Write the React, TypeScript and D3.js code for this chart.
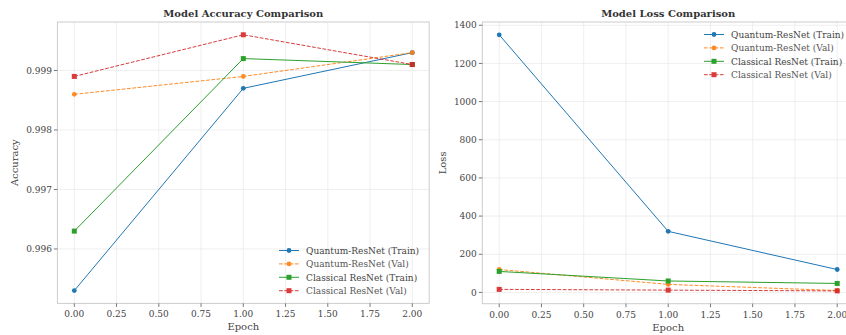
import React from 'react';
import * as d3 from 'd3';

const epochs = [0, 1, 2];

const seriesNames = [
  'Quantum-ResNet (Train)',
  'Quantum-ResNet (Val)',
  'Classical ResNet (Train)',
  'Classical ResNet (Val)',
];
const seriesColors = ['#1f77b4', '#ff7f0e', '#2ca02c', '#d62728'];
const seriesDashed = [false, true, false, true];
const seriesMarker = ['circle', 'circle', 'square', 'square'];

const accQuantumTrain = [0.9953, 0.9987, 0.9993];
const accQuantumVal = [0.9986, 0.9989, 0.9993];
const accClassicalTrain = [0.9963, 0.9992, 0.9991];
const accClassicalVal = [0.9989, 0.9996, 0.9991];

const lossQuantumTrain = [1350, 320, 120];
const lossQuantumVal = [120, 42, 10];
const lossClassicalTrain = [110, 60, 47];
const lossClassicalVal = [16, 12, 8];

const xTicks = [0, 0.25, 0.5, 0.75, 1, 1.25, 1.5, 1.75, 2];
const accTicks = [0.996, 0.997, 0.998, 0.999];
const lossTicks = [0, 200, 400, 600, 800, 1000, 1200, 1400];

const FONT = '"DejaVu Serif", serif';
const W = 846;
const H = 335;

type PanelProps = {
  left: number;
  right: number;
  top: number;
  bottom: number;
  title: string;
  yLabel: string;
  yLabelX: number;
  data: number[][];
  yTicks: number[];
  yFmt: (v: number) => string;
  legendX: number;
  legendY: number;
};

const pad = (lo: number, hi: number): [number, number] => {
  const m = (hi - lo) * 0.05;
  return [lo - m, hi + m];
};

const Panel = (p: PanelProps) => {
  const x = d3.scaleLinear().domain(pad(0, 2)).range([p.left, p.right]);
  const all = p.data.flat();
  const y = d3
    .scaleLinear()
    .domain(pad(d3.min(all) as number, d3.max(all) as number))
    .range([p.bottom, p.top]);
  const line = d3
    .line<number>()
    .x((_, i) => x(epochs[i]))
    .y((d) => y(d));
  const xFmt = d3.format('.2f');
  const cx = (p.left + p.right) / 2;

  const marker = (k: number, px: number, py: number, key: string) =>
    seriesMarker[k] === 'circle' ? (
      <circle key={key} cx={px} cy={py} r={2.4} fill={seriesColors[k]} />
    ) : (
      <rect key={key} x={px - 2.5} y={py - 2.5} width={5} height={5} fill={seriesColors[k]} />
    );

  return (
    <g>
      {/* grid */}
      {xTicks.map((t) => (
        <line key={'gx' + t} x1={x(t)} x2={x(t)} y1={p.top} y2={p.bottom} stroke="#ebebeb" strokeWidth={0.8} />
      ))}
      {p.yTicks.map((t) => (
        <line key={'gy' + t} x1={p.left} x2={p.right} y1={y(t)} y2={y(t)} stroke="#ebebeb" strokeWidth={0.8} />
      ))}
      {/* spines */}
      <rect x={p.left} y={p.top} width={p.right - p.left} height={p.bottom - p.top} fill="none" stroke="#cccccc" strokeWidth={1} />
      {/* ticks */}
      {xTicks.map((t) => (
        <g key={'tx' + t}>
          <line x1={x(t)} x2={x(t)} y1={p.bottom} y2={p.bottom + 3.5} stroke="#555" strokeWidth={0.8} />
          <text x={x(t)} y={p.bottom + 14} textAnchor="middle" fontSize={9} fill="#444" fontFamily={FONT}>
            {xFmt(t)}
          </text>
        </g>
      ))}
      {p.yTicks.map((t) => (
        <g key={'ty' + t}>
          <line x1={p.left - 3.5} x2={p.left} y1={y(t)} y2={y(t)} stroke="#555" strokeWidth={0.8} />
          <text x={p.left - 5.5} y={y(t) + 3.2} textAnchor="end" fontSize={9} fill="#444" fontFamily={FONT}>
            {p.yFmt(t)}
          </text>
        </g>
      ))}
      {/* series */}
      {p.data.map((vals, k) => (
        <g key={'s' + k} opacity={seriesDashed[k] ? 0.9 : 1}>
          <path
            d={line(vals) || ''}
            fill="none"
            stroke={seriesColors[k]}
            strokeWidth={1}
            strokeDasharray={seriesDashed[k] ? '3.7,1.6' : undefined}
          />
          {vals.map((v, i) => marker(k, x(epochs[i]), y(v), 'm' + k + '-' + i))}
        </g>
      ))}
      {/* titles */}
      <text x={cx} y={p.top - 5} textAnchor="middle" fontSize={10} fontWeight="bold" fill="#333" fontFamily={FONT}>
        {p.title}
      </text>
      <text x={cx} y={p.bottom + 27} textAnchor="middle" fontSize={10} fill="#444" fontFamily={FONT}>
        Epoch
      </text>
      <text
        transform={`translate(${p.yLabelX},${(p.top + p.bottom) / 2}) rotate(-90)`}
        textAnchor="middle"
        fontSize={10}
        fill="#444"
        fontFamily={FONT}
      >
        {p.yLabel}
      </text>
      {/* legend */}
      {seriesNames.map((name, k) => {
        const ly = p.legendY + k * 13.4;
        return (
          <g key={'l' + k} opacity={seriesDashed[k] ? 0.9 : 1}>
            <line
              x1={p.legendX}
              x2={p.legendX + 20}
              y1={ly}
              y2={ly}
              stroke={seriesColors[k]}
              strokeWidth={1}
              strokeDasharray={seriesDashed[k] ? '3.7,1.6' : undefined}
            />
            {marker(k, p.legendX + 10, ly, 'lm' + k)}
            <text x={p.legendX + 27} y={ly + 3.3} fontSize={9} fill="#444" fontFamily={FONT}>
              {name}
            </text>
          </g>
        );
      })}
    </g>
  );
};

export default function App() {
  const accData = [accQuantumTrain, accQuantumVal, accClassicalTrain, accClassicalVal];
  const lossData = [lossQuantumTrain, lossQuantumVal, lossClassicalTrain, lossClassicalVal];
  return (
    <svg
      width={W}
      height={H}
      style={{ position: 'absolute', left: 0, top: 0, background: '#fff' }}
    >
      <rect width={W} height={H} fill="#fff" />
      <Panel
        left={57.4}
        right={429.2}
        top={22}
        bottom={303.4}
        title="Model Accuracy Comparison"
        yLabel="Accuracy"
        yLabelX={18}
        data={accData}
        yTicks={accTicks}
        yFmt={d3.format('.3f')}
        legendX={279}
        legendY={250.5}
      />
      <Panel
        left={482.3}
        right={854.1}
        top={22}
        bottom={303.7}
        title="Model Loss Comparison"
        yLabel="Loss"
        yLabelX={446}
        data={lossData}
        yTicks={lossTicks}
        yFmt={d3.format('d')}
        legendX={704}
        legendY={34.5}
      />
    </svg>
  );
}
